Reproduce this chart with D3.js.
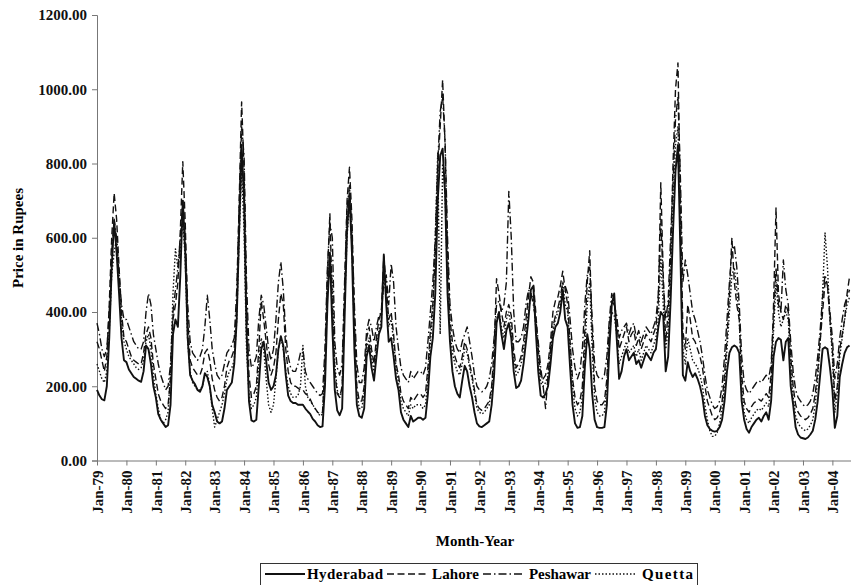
<!DOCTYPE html>
<html>
<head>
<meta charset="utf-8">
<script src="https://cdn.jsdelivr.net/npm/d3@7"></script>
<style>
  body { margin: 0; background: #fff; }
  svg { display: block; font-family: "Liberation Serif", "Times New Roman", serif; font-weight: bold; }
</style>
</head>
<body>
<svg id="chart" width="851" height="585"></svg>
<script>
// ---------- data (monthly prices, Jan-79 .. Aug-04) ----------
const startMonth = new Date(1979, 0, 1);
const yTicks = [0, 200, 400, 600, 800, 1000, 1200];
const seriesNames = ["Hyderabad", "Lahore", "Peshawar", "Quetta"];

const hyderabad = [
  190,175,165,162,200,330,520,645,560,450,330,270, // 79
  265,245,235,225,220,215,212,240,310,300,260,200, // 80
  170,125,110,100,90,95,150,340,380,360,500,700,   // 81
  560,330,230,215,205,190,185,200,235,225,200,150, // 82
  130,105,100,105,140,190,200,210,260,380,620,850, // 83
  700,350,160,108,105,110,200,300,320,270,210,190, // 84
  200,230,300,335,310,230,175,160,155,155,150,150, // 85
  150,140,132,125,112,105,95,90,92,200,420,560,    // 86
  360,190,135,122,140,380,620,720,560,300,150,120, // 87
  115,140,280,310,250,215,280,340,360,555,420,320, // 88
  330,280,220,190,130,110,100,90,120,105,110,115,  // 89
  115,110,115,180,280,330,450,700,820,840,720,450, // 90
  320,240,200,180,170,215,255,240,200,170,130,100, // 91
  92,90,95,100,105,150,230,370,400,340,300,350,    // 92
  370,330,240,195,200,215,260,320,380,460,470,350, // 93
  240,175,170,180,200,260,330,360,370,400,460,380, // 94
  360,250,150,100,88,90,120,250,340,300,180,110,   // 95
  90,88,88,90,150,300,420,450,330,220,240,280,     // 96
  300,270,280,290,260,270,250,270,290,280,270,290, // 97
  300,360,400,390,240,280,430,620,780,850,560,230, // 98
  215,265,240,225,235,220,200,170,120,95,85,80,    // 99
  78,80,90,110,160,240,290,305,310,305,290,160,    // 00
  110,85,75,90,100,110,115,105,120,130,110,160,    // 01
  280,320,330,325,270,320,330,200,150,90,70,62,    // 02
  60,58,62,70,80,110,160,230,300,305,300,250,      // 03
  190,88,120,225,260,290,305,310                   // 04
];

const lahore = [
  320,300,270,240,280,420,600,720,650,520,400,330,
  320,300,280,270,265,260,260,290,340,360,330,260,
  220,180,160,150,140,150,220,380,420,480,620,805,
  640,380,270,250,240,230,230,250,290,300,270,220,
  190,170,160,170,200,250,270,280,300,420,700,966,
  780,420,230,170,180,200,300,430,380,320,260,230,
  250,290,380,450,420,300,240,210,200,200,195,190,
  190,180,175,165,150,140,130,125,130,260,500,665,
  420,240,180,170,200,450,700,790,650,380,200,160,
  160,200,330,360,300,260,330,380,400,550,470,380,
  400,340,260,230,180,160,150,140,170,160,170,180,
  180,170,180,250,350,420,560,780,900,1025,850,560,
  380,320,280,260,250,280,320,300,260,230,190,150,
  140,135,140,150,160,200,300,490,450,400,360,400,
  420,390,300,250,260,280,320,380,440,495,480,400,
  300,230,220,230,260,320,400,430,440,470,510,460,
  420,320,220,170,150,160,200,350,480,565,350,200,
  160,150,150,160,220,360,430,420,380,300,320,340,
  360,320,340,350,310,330,300,320,340,330,320,340,
  360,430,748,500,320,400,550,800,1000,1071,700,350,
  300,420,380,330,320,300,280,250,200,160,140,120,
  110,115,130,160,230,330,450,600,480,420,380,230,
  160,140,130,145,155,160,165,160,170,180,170,230,
  420,680,450,400,380,420,400,280,200,150,130,120,
  115,110,115,125,140,180,240,320,400,480,470,380,
  300,160,200,300,340,380,450,495
];

const peshawar = [
  370,340,300,280,300,400,560,650,600,500,420,380,
  380,360,340,320,310,300,300,320,400,450,420,340,
  300,260,230,210,190,200,260,400,460,520,600,700,
  600,420,320,290,280,270,280,300,360,445,380,300,
  260,230,220,230,260,290,300,310,330,460,680,900,
  820,480,300,250,260,280,380,445,420,360,300,270,
  300,380,480,535,460,340,280,250,240,240,260,290,
  300,240,220,210,200,190,180,175,180,300,520,640,
  600,320,250,230,260,480,680,740,620,420,260,210,
  210,250,350,380,360,320,360,390,400,480,500,420,
  530,480,360,300,250,230,220,210,240,220,230,240,
  240,230,250,320,400,480,600,800,940,980,860,600,
  420,360,320,300,290,320,340,360,320,280,230,200,
  190,185,190,200,220,260,330,420,430,400,420,480,
  725,600,400,320,320,330,360,420,460,450,420,380,
  320,250,200,140,230,300,360,390,410,440,480,470,
  450,380,300,250,220,240,300,420,500,520,380,260,
  230,220,220,230,280,380,450,420,390,330,350,360,
  370,340,360,370,330,350,320,340,360,350,340,360,
  380,450,650,480,380,430,600,750,920,980,760,480,
  540,500,450,400,380,350,320,280,230,190,170,150,
  140,145,160,200,280,380,480,560,580,520,420,280,
  210,190,180,190,200,210,215,210,220,230,220,260,
  380,520,420,400,540,460,420,320,240,190,170,160,
  150,145,150,160,180,220,280,350,440,500,470,400,
  330,220,260,330,380,420,440,460
];

const quetta = [
  260,240,220,210,240,350,500,560,600,480,380,320,
  300,280,270,260,250,245,250,270,320,340,300,230,
  180,140,110,100,110,130,240,450,570,520,560,650,
  540,320,240,210,200,190,190,200,230,240,200,140,
  90,110,130,150,180,220,240,250,270,380,600,780,
  620,300,180,140,150,170,260,330,300,220,150,130,
  150,220,300,330,300,240,200,180,170,170,175,200,
  310,200,170,160,150,140,130,120,125,240,450,560,
  480,260,190,170,190,420,600,700,580,340,180,140,
  140,180,300,330,280,240,300,350,380,500,440,360,
  380,320,250,210,160,140,130,120,150,140,150,150,
  150,140,150,220,320,400,600,830,340,800,720,480,
  350,290,260,240,230,260,300,290,250,220,180,140,
  130,125,130,140,150,190,270,380,400,360,330,380,
  400,360,280,230,240,260,300,350,400,450,440,360,
  270,210,200,210,230,280,350,380,400,420,480,420,
  400,300,200,140,120,130,170,300,420,480,300,170,
  130,120,120,130,200,340,400,390,340,260,280,300,
  320,290,300,310,280,300,270,290,310,300,290,310,
  330,380,550,420,300,350,500,700,850,900,620,300,
  260,330,300,270,260,250,230,200,150,110,80,65,
  65,75,100,140,200,300,400,500,520,460,380,200,
  130,110,100,115,125,135,140,135,145,155,145,200,
  350,480,400,360,380,400,380,250,170,120,100,90,
  85,80,85,95,110,150,220,320,450,614,520,380,
  280,130,180,280,330,380,420,440
];

// ---------- setup ----------
const svg = d3.select("#chart");
const fmtMonth = d3.timeFormat("%b-%y");
const months = hyderabad.map((_, i) => fmtMonth(d3.timeMonth.offset(startMonth, i)));

const x = d3.scaleLinear().domain([0, 308]).range([97, 852]);
const y = d3.scaleLinear().domain([0, 1200]).range([460.5, 15]);

const styles = [
  { data: hyderabad, dash: null, width: 1.9 },
  { data: lahore, dash: "7,3.5", width: 1.4 },
  { data: peshawar, dash: "8,3,1.5,3", width: 1.4 },
  { data: quetta, dash: "1.5,2", width: 1.4 }
];

// ---------- axes ----------
const yAxis = d3.axisLeft(y)
  .tickValues(yTicks)
  .tickFormat(d3.format(".2f"))
  .tickSize(5)
  .tickPadding(5);

const gy = svg.append("g").attr("transform", "translate(97,0)").call(yAxis);
gy.select(".domain").attr("stroke", "#777");
gy.selectAll(".tick line").attr("stroke", "#777");
gy.selectAll("text")
  .attr("font-size", 15)
  .attr("font-family", "Liberation Serif, serif")
  .attr("font-weight", "bold")
  .attr("fill", "#111");

const xTickIdx = d3.range(0, months.length, 12);
const xAxis = d3.axisBottom(x)
  .tickValues(xTickIdx)
  .tickFormat(i => months[i])
  .tickSize(5)
  .tickSizeOuter(0);

const gx = svg.append("g").attr("transform", "translate(0,460.5)").call(xAxis);
gx.select(".domain").attr("stroke", "#777");
gx.selectAll(".tick line").attr("stroke", "#777");
gx.selectAll("text")
  .attr("font-size", 15)
  .attr("font-family", "Liberation Serif, serif")
  .attr("font-weight", "bold")
  .attr("fill", "#111")
  .attr("text-anchor", "end")
  .attr("transform", "rotate(-90)")
  .attr("x", -10)
  .attr("y", 0)
  .attr("dy", "0.35em");

// ---------- lines ----------
const line = d3.line()
  .x((d, i) => x(i))
  .y(d => y(d));

svg.append("g")
  .selectAll("path")
  .data(styles.slice().reverse())
  .enter()
  .append("path")
  .attr("d", s => line(s.data))
  .attr("fill", "none")
  .attr("stroke", "#111")
  .attr("stroke-width", s => s.width)
  .attr("stroke-dasharray", s => s.dash)
  .attr("stroke-linejoin", "round");

// ---------- titles ----------
svg.append("text")
  .attr("x", 475).attr("y", 546)
  .attr("text-anchor", "middle")
  .attr("font-size", 15)
  .text("Month-Year");

svg.append("text")
  .attr("transform", "translate(23,238) rotate(-90)")
  .attr("text-anchor", "middle")
  .attr("font-size", 15)
  .text("Price in Rupees");

// ---------- legend ----------
const legend = svg.append("g");
legend.append("rect")
  .attr("x", 260.5).attr("y", 563.5)
  .attr("width", 437).attr("height", 30)
  .attr("fill", "#fff")
  .attr("stroke", "#333");

// sample start, text start, text width
const legendLayout = [[265, 307, 76], [387, 432, 47], [483, 529, 62], [595, 642, 51]];
seriesNames.forEach((name, k) => {
  const [lx, tx, tw] = legendLayout[k];
  legend.append("line")
    .attr("x1", lx).attr("x2", lx + 40)
    .attr("y1", 574).attr("y2", 574)
    .attr("stroke", "#111")
    .attr("stroke-width", k === 0 ? 1.8 : 1.4)
    .attr("stroke-dasharray", styles[k].dash);
  legend.append("text")
    .attr("x", tx).attr("y", 579)
    .attr("font-size", 15)
    .attr("textLength", tw)
    .attr("lengthAdjust", "spacing")
    .text(name);
});
</script>
</body>
</html>
